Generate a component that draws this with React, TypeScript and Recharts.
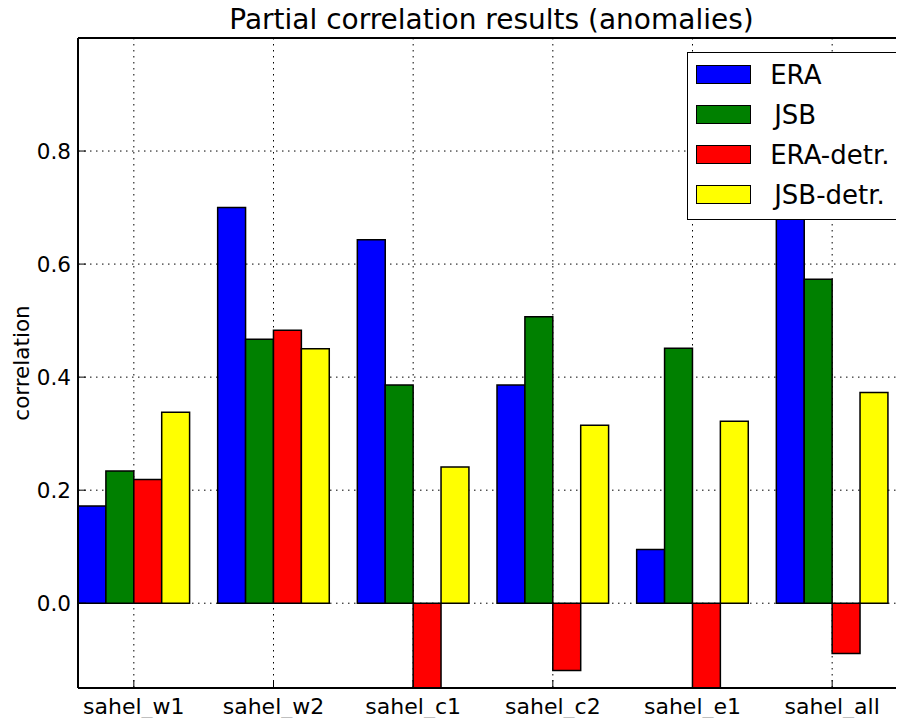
import React from "react";
import {
  BarChart,
  Bar,
  XAxis,
  YAxis,
  CartesianGrid,
  ReferenceLine,
} from "recharts";

const regions = ["sahel_w1", "sahel_w2", "sahel_c1", "sahel_c2", "sahel_e1", "sahel_all"];
const era = [0.172, 0.7, 0.643, 0.386, 0.095, 0.71];
const jsb = [0.234, 0.467, 0.386, 0.507, 0.451, 0.573];
const eraDetr = [0.219, 0.483, -0.25, -0.119, -0.25, -0.089];
const jsbDetr = [0.338, 0.45, 0.241, 0.315, 0.322, 0.373];
const yTicks = [0, 0.2, 0.4, 0.6, 0.8];

const series = [
  { key: "era", name: "ERA", color: "#0000ff" },
  { key: "jsb", name: "JSB", color: "#008000" },
  { key: "eraDetr", name: "ERA-detr.", color: "#ff0000" },
  { key: "jsbDetr", name: "JSB-detr.", color: "#ffff00" },
];

const data = regions.map((region, i) => ({
  region,
  era: era[i],
  jsb: jsb[i],
  eraDetr: eraDetr[i],
  jsbDetr: jsbDetr[i],
}));

const FONT = "'DejaVu Sans', sans-serif";

export default function App(): React.ReactElement {
  return (
    <div
      style={{
        position: "relative",
        width: 896,
        height: 710,
        fontFamily: FONT,
        color: "#000",
        background: "#fff",
      }}
    >
      <div style={{ width: 896, height: 710, overflow: "hidden" }}>
        <BarChart
          width={912}
          height={710}
          data={data}
          margin={{ top: 30, right: 4, bottom: 0, left: 0 }}
          barGap={0}
          barSize={27.9}
        >
          {series.map((s) => (
            <Bar
              key={s.key}
              dataKey={s.key}
              name={s.name}
              fill={s.color}
              stroke="#000"
              strokeWidth={1.5}
              isAnimationActive={false}
            />
          ))}
          <CartesianGrid stroke="#000" strokeDasharray="1.5 4.5" />
          <ReferenceLine y={1} stroke="#000" strokeWidth={2} />
          <XAxis
            dataKey="region"
            height={30}
            padding={{ left: -14, right: 14 }}
            tick={{ fontSize: 22, fill: "#000", fontFamily: FONT }}
            tickSize={-8}
            tickMargin={18}
            tickLine={{ stroke: "#000" }}
            axisLine={{ stroke: "#000", strokeWidth: 2 }}
          />
          <YAxis
            width={70}
            domain={[-0.15, 1]}
            ticks={yTicks}
            allowDataOverflow
            tickFormatter={(v: number) => v.toFixed(1)}
            tick={{ fontSize: 21.5, fill: "#000", fontFamily: FONT }}
            tickSize={-8}
            tickMargin={15}
            tickLine={{ stroke: "#000" }}
            axisLine={{ stroke: "#000", strokeWidth: 2 }}
          />
        </BarChart>
      </div>

      <div
        style={{
          position: "absolute",
          left: 483.5,
          top: 12,
          transform: "translate(-50%, -50%)",
          fontSize: 28,
          lineHeight: 1.16,
          whiteSpace: "nowrap",
        }}
      >
        Partial correlation results (anomalies)
      </div>

      <div
        style={{
          position: "absolute",
          left: 12.6,
          top: 355,
          transform: "translate(-50%, -50%) rotate(-90deg)",
          fontSize: 21.5,
          whiteSpace: "nowrap",
        }}
      >
        correlation
      </div>

      <div
        style={{
          position: "absolute",
          left: 678.7,
          top: 44,
          width: 216,
          height: 168,
          boxSizing: "border-box",
          border: "1.5px solid #000",
          background: "#fff",
        }}
      >
        {series.map((s, i) => (
          <div
            key={s.key}
            style={{
              position: "absolute",
              left: 8.5,
              top: 1.5 + i * 40,
              height: 40,
              display: "flex",
              alignItems: "center",
            }}
          >
            <span
              style={{
                display: "inline-block",
                width: 55,
                height: 19,
                boxSizing: "border-box",
                background: s.color,
                border: "1.5px solid #000",
              }}
            />
            <span
              style={{
                marginLeft: s.name.startsWith("J") ? 23 : 19,
                fontSize: 26,
                whiteSpace: "nowrap",
              }}
            >
              {s.name}
            </span>
          </div>
        ))}
      </div>
    </div>
  );
}
